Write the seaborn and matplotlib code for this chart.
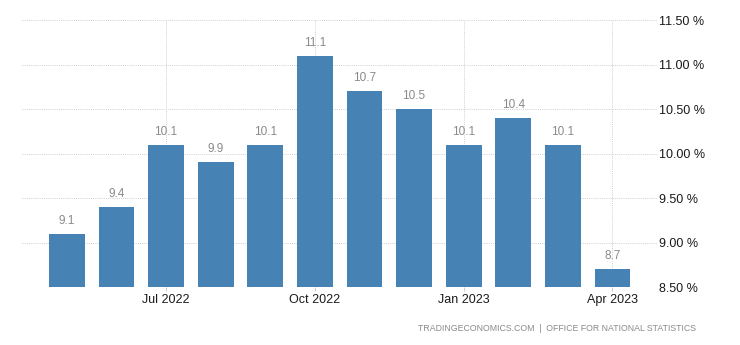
import matplotlib
matplotlib.use("Agg")
import matplotlib.pyplot as plt
import seaborn as sns
import pandas as pd

months = ["May 2022", "Jun 2022", "Jul 2022", "Aug 2022", "Sep 2022", "Oct 2022",
          "Nov 2022", "Dec 2022", "Jan 2023", "Feb 2023", "Mar 2023", "Apr 2023"]
rates = [9.1, 9.4, 10.1, 9.9, 10.1, 11.1, 10.7, 10.5, 10.1, 10.4, 10.1, 8.7]
x_tick_labels = ["Jul 2022", "Oct 2022", "Jan 2023", "Apr 2023"]
y_ticks = [8.5, 9.0, 9.5, 10.0, 10.5, 11.0, 11.5]

df = pd.DataFrame({"month": months, "rate": rates})

sns.set_theme(style="white")
plt.rcParams["font.family"] = ["Liberation Sans", "DejaVu Sans"]

fig = plt.figure(figsize=(7.4, 3.45), dpi=100)
ax = fig.add_axes([0.030, 0.168, 0.858, 0.774])

sns.barplot(data=df, x="month", y="rate", color="#4682B4", saturation=1,
            width=0.72, linewidth=0, ax=ax, zorder=2)

ax.set_ylim(8.5, 11.5)
ax.set_xlim(-0.9, 11.9)

# grid: dotted horizontals at every y tick, verticals at labelled months
ax.set_yticks(y_ticks)
ax.set_yticklabels([f"{v:.2f} %" for v in y_ticks])
for v in y_ticks:
    ax.axhline(v, color="#cfcfcf", lw=0.7, ls=(0, (1, 1.2)), zorder=0)
tick_pos = [months.index(m) for m in x_tick_labels]
ax.set_xticks(tick_pos)
ax.set_xticklabels(x_tick_labels)
for p in tick_pos:
    ax.axvline(p, color="#cfcfcf", lw=0.7, ls=(0, (1, 1.2)), zorder=0)

ax.yaxis.tick_right()
ax.tick_params(axis="y", length=0, pad=1, labelsize=9, labelcolor="#1a1a1a")
ax.tick_params(axis="x", length=3, width=0.7, color="#cccccc", pad=2,
               labelsize=9, labelcolor="#1a1a1a", bottom=True)
ax.set_xlabel("")
ax.set_ylabel("")
for s in ax.spines.values():
    s.set_visible(False)

for i, v in enumerate(rates):
    ax.annotate(f"{v:.1f}", (i, v), xytext=(0, 5), textcoords="offset points",
                ha="center", va="bottom", fontsize=8.5, color="#8a8a8a")

fig.text(0.94, 0.035, "TRADINGECONOMICS.COM  |  OFFICE FOR NATIONAL STATISTICS",
         ha="right", va="bottom", fontsize=6.3, color="#8a8a8a")

fig.savefig("out.png", dpi=100, facecolor="white")
